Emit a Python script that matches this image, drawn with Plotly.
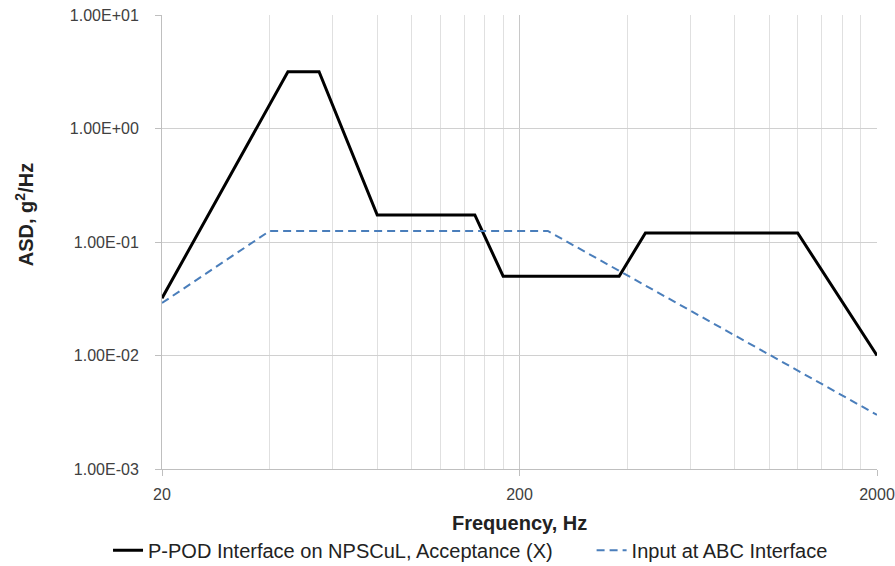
import plotly.graph_objects as go

# Data
freq_ppod = [20, 45, 55, 80, 150, 180, 380, 450, 1200, 2000]
asd_ppod = [0.032, 3.16, 3.16, 0.173, 0.173, 0.05, 0.05, 0.12, 0.12, 0.01]
freq_abc = [20, 40, 240, 2000]
asd_abc = [0.029, 0.125, 0.125, 0.003]

x_major = [20, 200, 2000]
x_major_text = ["20", "200", "2000"]
x_minor = [40, 60, 80, 100, 120, 140, 160, 180,
           400, 600, 800, 1000, 1200, 1400, 1600, 1800]
y_ticks = [0.001, 0.01, 0.1, 1, 10]
y_ticktext = ["1.00E-03", "1.00E-02", "1.00E-01", "1.00E+00", "1.00E+01"]

FONT = "Liberation Sans"
TXT = "#404040"

fig = go.Figure()
fig.add_trace(go.Scatter(
    x=freq_ppod, y=asd_ppod, mode="lines",
    name="P-POD Interface on NPSCuL, Acceptance (X)",
    line=dict(color="black", width=3), legend="legend",
))
fig.add_trace(go.Scatter(
    x=freq_abc, y=asd_abc, mode="lines",
    name="Input at ABC Interface",
    line=dict(color="#4a7ebb", width=2, dash="8px,5px"), legend="legend2",
))

leg_common = dict(
    orientation="h", xref="container", yref="container",
    y=0.028, xanchor="left", yanchor="middle",
    font=dict(size=20, color="#222222"), itemwidth=30,
)

fig.update_layout(
    width=895, height=566,
    margin=dict(l=162, r=18, t=15, b=97, autoexpand=False),
    paper_bgcolor="white", plot_bgcolor="white",
    font=dict(family=FONT, color=TXT, size=15),
    showlegend=True,
    legend=dict(x=0.1207, **leg_common),
    legend2=dict(x=0.661, **leg_common),
    xaxis=dict(
        type="log", range=[1.30103, 3.30103], automargin=False,
        tickmode="array", tickvals=x_major, ticktext=x_major_text,
        showgrid=True, gridcolor="#c8c8c8", gridwidth=1,
        minor=dict(tickmode="array", tickvals=x_minor, showgrid=True,
                   gridcolor="#e0e0e0", gridwidth=1, ticks=""),
        showline=True, linecolor="#bfbfbf", linewidth=1,
        ticks="outside", ticklen=6, tickcolor="#bfbfbf",
        tickfont=dict(size=16, color=TXT),
        ticklabelstandoff=5, ticklabeloverflow="allow",
        zeroline=False,
    ),
    yaxis=dict(
        type="log", range=[-3, 1], automargin=False,
        tickmode="array", tickvals=y_ticks, ticktext=y_ticktext,
        showgrid=True, gridcolor="#d0d0d0", gridwidth=1,
        showline=True, linecolor="#bfbfbf", linewidth=1,
        ticks="outside", ticklen=6, tickcolor="#bfbfbf",
        tickfont=dict(size=16, color=TXT),
        ticklabelstandoff=13,
        zeroline=False,
    ),
    annotations=[
        dict(text="<b>ASD, g<sup>2</sup>/Hz</b>", textangle=-90,
             xref="paper", yref="paper", x=-0.193, y=0.559,
             xanchor="center", yanchor="middle", showarrow=False,
             font=dict(size=20, color="#222222", family=FONT)),
        dict(text="<b>Frequency, Hz</b>",
             xref="paper", yref="paper", x=0.5, y=-0.119,
             xanchor="center", yanchor="middle", showarrow=False,
             font=dict(size=20, color="#222222", family=FONT)),
    ],
)

fig.write_html("out.html", config={"displayModeBar": False},
               post_script="document.body.style.margin='0';")
